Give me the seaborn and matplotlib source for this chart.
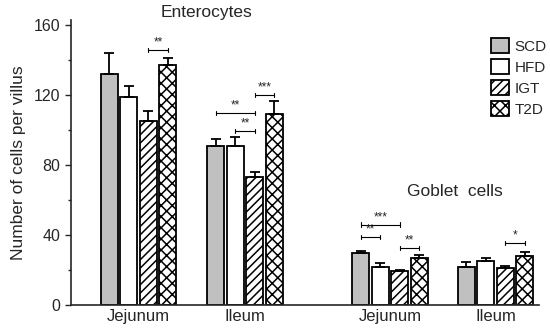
import matplotlib.pyplot as plt
import matplotlib
import seaborn as sns
import pandas as pd
import numpy as np
from matplotlib.patches import Patch

# data
segments = ["Jejunum", "Ileum", "Jejunum", "Ileum"]
diets = ["SCD", "HFD", "IGT", "T2D"]
scd = [132, 91, 30, 22]
hfd = [119, 91, 22, 25]
igt = [105, 73, 19.5, 21]
t2d = [137, 109, 27, 28]
scd_err = [12, 4, 0.8, 2.5]
hfd_err = [6, 5, 2, 1.8]
igt_err = [6, 3, 0.4, 1.5]
t2d_err = [4, 7.5, 1.5, 2.5]
# (group, diet a, diet b, height, stars)
signif = [
    (0, 2, 3, 146, "**"),
    (1, 0, 2, 110, "**"),
    (1, 1, 2, 99.5, "**"),
    (1, 2, 3, 120, "***"),
    (2, 0, 2, 46, "***"),
    (2, 0, 1, 39, "**"),
    (2, 2, 3, 32.5, "**"),
    (3, 2, 3, 35.5, "*"),
]

# layout
group_pos = [0.675, 1.74, 3.19, 4.245]
colors = {"SCD": "#c0c0c0", "HFD": "white", "IGT": "white", "T2D": "white"}
hatches = {"SCD": "", "HFD": "", "IGT": "////", "T2D": "xxx"}

rows = []
for d, vals, errs in zip(diets, [scd, hfd, igt, t2d], [scd_err, hfd_err, igt_err, t2d_err]):
    for p, v, e in zip(group_pos, vals, errs):
        rows.append({"pos": p, "diet": d, "value": v, "err": e})
df = pd.DataFrame(rows)

sns.set_style("ticks")
plt.rcParams['font.family'] = ['Liberation Sans', 'DejaVu Sans']
plt.rcParams['hatch.linewidth'] = 1.1

fig = plt.figure(figsize=(5.5, 3.35), dpi=100)
ax = fig.add_axes([71 / 550, 1 - 305 / 335, 468 / 550, 285 / 335])

sns.barplot(
    data=df,
    ax=ax,
    x="pos",
    y="value",
    hue="diet",
    hue_order=diets,
    palette=colors,
    native_scale=True,
    width=0.74,
    gap=0.13,
    errorbar=None,
    edgecolor="black",
    linewidth=1.3,
    legend=False,
)

centers = {}
for d, cont in zip(diets, ax.containers):
    sub = df[df.diet == d]
    xs = []
    for patch in cont.patches:
        patch.set_hatch(hatches[d])
        patch.set_edgecolor("black")
        xs.append(patch.get_x() + patch.get_width() / 2)
    centers[d] = xs
    ax.errorbar(xs, sub["value"], yerr=[np.zeros(len(sub)), sub["err"]], fmt="none",
                ecolor="black", elinewidth=1.3, capsize=3.5, capthick=1.3, zorder=1)

for g, a, b, h, s in signif:
    x1 = centers[diets[a]][g]
    x2 = centers[diets[b]][g]
    ax.plot([x1, x2], [h, h], color="black", lw=0.8)
    ax.plot([x1, x1], [h - 1.2, h + 1.2], color="black", lw=0.8)
    ax.plot([x2, x2], [h - 1.2, h + 1.2], color="black", lw=0.8)
    ax.annotate(s, ((x1 + x2) / 2, h), xytext=(0, 1), textcoords="offset points",
                ha="center", va="bottom", fontsize=8.5)

ax.set_xlim(0, 4.68)
ax.set_ylim(0, 163)
ax.set_yticks([0, 40, 80, 120, 160])
ax.set_yticks([20, 60, 100, 140], minor=True)
ax.tick_params(axis="y", which="major", length=4, width=1, labelsize=11.5, direction="out")
ax.tick_params(axis="y", which="minor", length=2.5, width=1, direction="out")
ax.set_xticks(group_pos)
ax.set_xticklabels(segments)
ax.tick_params(axis="x", length=0, labelsize=12, pad=3)
ax.set_xlabel("")
ax.set_ylabel("Number of cells per villus", fontsize=12.5, labelpad=6)
for sp in ["left", "bottom"]:
    ax.spines[sp].set_linewidth(1.2)
sns.despine(ax=ax)

fig.text(207 / 550, 1 - 13 / 335, "Enterocytes", ha="center", va="center", fontsize=12.5)
fig.text(455 / 550, 1 - 191 / 335, "Goblet  cells", ha="center", va="center", fontsize=12.5)

handles = [Patch(facecolor=colors[d], edgecolor="black", hatch=hatches[d], linewidth=1.3) for d in diets]
fig.legend(handles, diets, loc="upper left", bbox_to_anchor=(491 / 550, 1 - 38 / 335),
           frameon=False, fontsize=11, handlelength=1.2, handleheight=1.15,
           labelspacing=0.35, handletextpad=0.35, borderpad=0, borderaxespad=0)

plt.savefig("out.png", dpi=100)
